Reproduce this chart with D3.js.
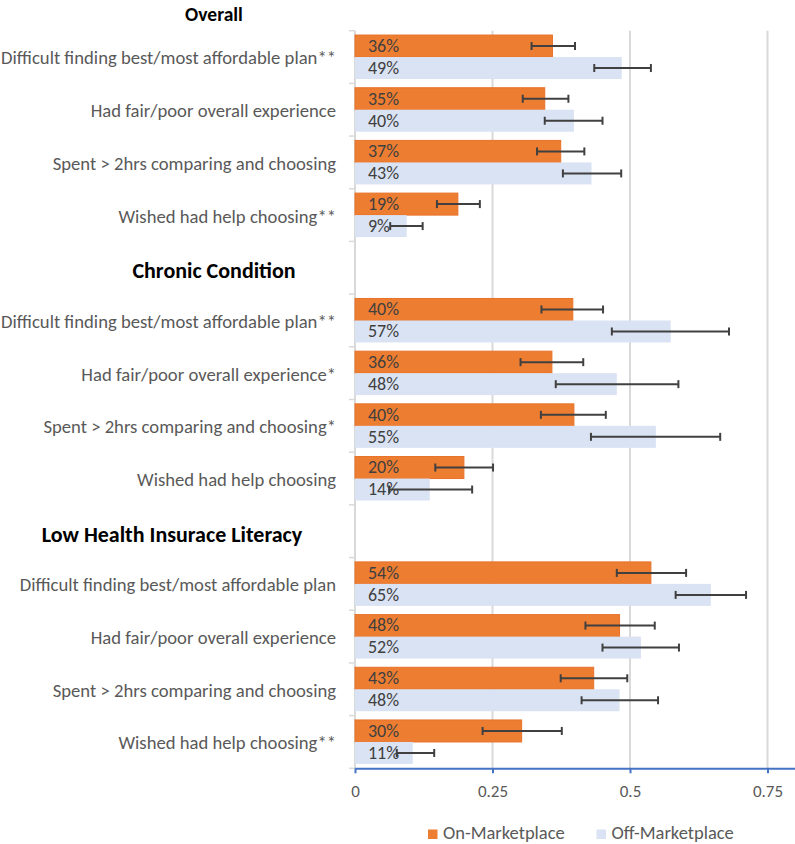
<!DOCTYPE html>
<html>
<head>
<meta charset="utf-8">
<script src="https://cdn.jsdelivr.net/npm/d3@7"></script>
<style>
  html, body { margin: 0; padding: 0; background: #fff; }
  svg { display: block; font-family: Carlito, Calibri, Lato, "Open Sans", sans-serif; }
</style>
</head>
<body>
<svg id="chart" width="795" height="844"></svg>
<script>
// ---- data ----
const groupTitles = ["Overall", "Chronic Condition", "Low Health Insurace Literacy"];
const categories = [
  "Difficult finding best/most affordable plan**",
  "Had fair/poor overall experience",
  "Spent > 2hrs comparing and choosing",
  "Wished had help choosing**",
  "",
  "Difficult finding best/most affordable plan**",
  "Had fair/poor overall experience*",
  "Spent > 2hrs comparing and choosing*",
  "Wished had help choosing",
  "",
  "Difficult finding best/most affordable plan",
  "Had fair/poor overall experience",
  "Spent > 2hrs comparing and choosing",
  "Wished had help choosing**"
];
const seriesNames = ["On-Marketplace", "Off-Marketplace"];
const onValues  = [0.359, 0.345, 0.374, 0.187, null, 0.396, 0.358, 0.398, 0.198, null, 0.538, 0.481, 0.434, 0.303];
const onLow     = [0.321, 0.305, 0.331, 0.149, null, 0.339, 0.301, 0.338, 0.146, null, 0.476, 0.419, 0.374, 0.232];
const onHigh    = [0.400, 0.388, 0.417, 0.227, null, 0.451, 0.415, 0.456, 0.251, null, 0.602, 0.545, 0.495, 0.376];
const onLabels  = ["36%", "35%", "37%", "19%", null, "40%", "36%", "40%", "20%", null, "54%", "48%", "43%", "30%"];
const offValues = [0.485, 0.398, 0.430, 0.094, null, 0.574, 0.476, 0.547, 0.136, null, 0.647, 0.520, 0.481, 0.105];
const offLow    = [0.435, 0.345, 0.378, 0.064, null, 0.467, 0.365, 0.429, 0.062, null, 0.583, 0.450, 0.412, 0.076];
const offHigh   = [0.538, 0.450, 0.484, 0.123, null, 0.680, 0.588, 0.664, 0.213, null, 0.711, 0.589, 0.551, 0.144];
const offLabels = ["49%", "40%", "43%", "9%", null, "57%", "48%", "55%", "14%", null, "65%", "52%", "48%", "11%"];
const xTicks = [0, 0.25, 0.5, 0.75];
const xTickLabels = ["0", "0.25", "0.5", "0.75"];
const headerRowIndex = [-1, 4, 9];

// ---- styles ----
const ORANGE = "#ED7D31", BLUE = "#DAE3F3", GRID = "#D9D9D9", TEXT = "#595959", ERR = "#404040";
const FONT = "Carlito, Calibri, Lato, 'Open Sans', sans-serif";

const svg = d3.select("#chart");
const plotL = 355, plotR = 795, plotT = 30.7, plotB = 768.3;

const x = d3.scaleLinear().domain([0, 0.8]).range([plotL, plotR]);
const idx = categories.map((d, i) => i);
const y = d3.scaleBand().domain(idx).range([plotT, plotB]).paddingInner(0.165).paddingOuter(0.0825);
const sub = d3.scaleBand().domain([0, 1]).range([0, y.bandwidth()]);
const step = y.step();

// gridlines
svg.append("g").selectAll("line").data(xTicks.slice(1)).join("line")
  .attr("x1", d => x(d)).attr("x2", d => x(d))
  .attr("y1", plotT).attr("y2", plotB)
  .attr("stroke", GRID).attr("stroke-width", 2);

// left (category) axis line & ticks
svg.append("line").attr("x1", x(0)).attr("x2", x(0)).attr("y1", plotT).attr("y2", plotB)
  .attr("stroke", GRID).attr("stroke-width", 2);
svg.append("g").selectAll("line").data(d3.range(categories.length + 1)).join("line")
  .attr("x1", x(0) - 6).attr("x2", x(0))
  .attr("y1", d => plotT + d * step).attr("y2", d => plotT + d * step)
  .attr("stroke", GRID).attr("stroke-width", 1.5);

// rows
const rows = idx.filter(i => onValues[i] != null);
const series = [
  { vals: onValues, lo: onLow, hi: onHigh, labs: onLabels, color: ORANGE, k: 0 },
  { vals: offValues, lo: offLow, hi: offHigh, labs: offLabels, color: BLUE, k: 1 }
];

series.forEach(s => {
  svg.append("g").selectAll("rect").data(rows).join("rect")
    .attr("x", x(0))
    .attr("y", i => y(i) + sub(s.k))
    .attr("width", i => x(s.vals[i]) - x(0))
    .attr("height", sub.bandwidth())
    .attr("fill", s.color)
    .attr("stroke", s.k === 0 ? "#E8722A" : "none")
    .attr("stroke-width", 1);
});

series.forEach(s => {
  svg.append("g").selectAll("text").data(rows).join("text")
    .attr("x", x(0) + 13)
    .attr("y", i => y(i) + sub(s.k) + sub.bandwidth() / 2 + 1.5)
    .attr("dominant-baseline", "middle")
    .attr("font-size", 18)
    .attr("fill", ERR)
    .text(i => s.labs[i]);
});

// error bars
series.forEach(s => {
  const g = svg.append("g").attr("stroke", ERR).attr("stroke-width", 2);
  rows.forEach(i => {
    const cy = y(i) + sub(s.k) + sub.bandwidth() / 2;
    g.append("line").attr("x1", x(s.lo[i])).attr("x2", x(s.hi[i])).attr("y1", cy).attr("y2", cy);
    g.append("line").attr("x1", x(s.lo[i])).attr("x2", x(s.lo[i])).attr("y1", cy - 4).attr("y2", cy + 4);
    g.append("line").attr("x1", x(s.hi[i])).attr("x2", x(s.hi[i])).attr("y1", cy - 4).attr("y2", cy + 4);
  });
});

// category labels (fit widest to available width)
const labG = svg.append("g").attr("fill", TEXT).attr("text-anchor", "end");
const labs = labG.selectAll("text").data(rows).join("text")
  .attr("x", 336)
  .attr("y", i => y(i) + y.bandwidth() / 2 + 3)
  .attr("dominant-baseline", "middle")
  .attr("font-size", 18)
  .text(i => categories[i]);
let maxW = 0;
labs.each(function() { maxW = Math.max(maxW, this.getComputedTextLength()); });
labs.attr("font-size", 18 * 335 / maxW);

// group headers
const headerX = [214, 214, 172];
svg.append("g").selectAll("text").data(groupTitles).join("text")
  .attr("x", (d, j) => headerX[j])
  .attr("y", (d, j) => j === 0 ? 20.5 : plotT + (headerRowIndex[j] + 0.5) * step + 5)
  .attr("text-anchor", "middle")
  .attr("dominant-baseline", (d, j) => j === 0 ? "alphabetic" : "middle")
  .attr("font-weight", "bold")
  .attr("font-size", (d, j) => j === 0 ? 19.5 : 22)
  .attr("fill", "#000")
  .text(d => d);

// bottom value axis
const xAxis = svg.append("g").attr("transform", `translate(0,${plotB})`)
  .call(d3.axisBottom(x).tickValues(xTicks).tickFormat((d, i) => xTickLabels[i]).tickSizeInner(5).tickSizeOuter(0));
xAxis.select(".domain").attr("stroke", "#4472C4").attr("stroke-width", 2);
xAxis.selectAll(".tick line").attr("stroke", "#4472C4").attr("stroke-width", 2);
xAxis.selectAll(".tick text").attr("fill", TEXT).attr("font-size", 17)
  .attr("font-family", FONT).attr("y", 25).attr("dy", 0).attr("dominant-baseline", "middle");

// legend
const legend = svg.append("g").attr("transform", "translate(428,834)");
const legendX = [0, 168.5];
seriesNames.forEach((name, k) => {
  const g = legend.append("g").attr("transform", `translate(${legendX[k]},0)`);
  g.append("rect").attr("x", 0).attr("y", -4.5).attr("width", 9.5).attr("height", 9.5).attr("fill", k === 0 ? ORANGE : BLUE);
  g.append("text").attr("x", 15).attr("y", 1).attr("dominant-baseline", "middle")
    .attr("font-size", 18.5).attr("fill", TEXT).text(name);
});
</script>
</body>
</html>
